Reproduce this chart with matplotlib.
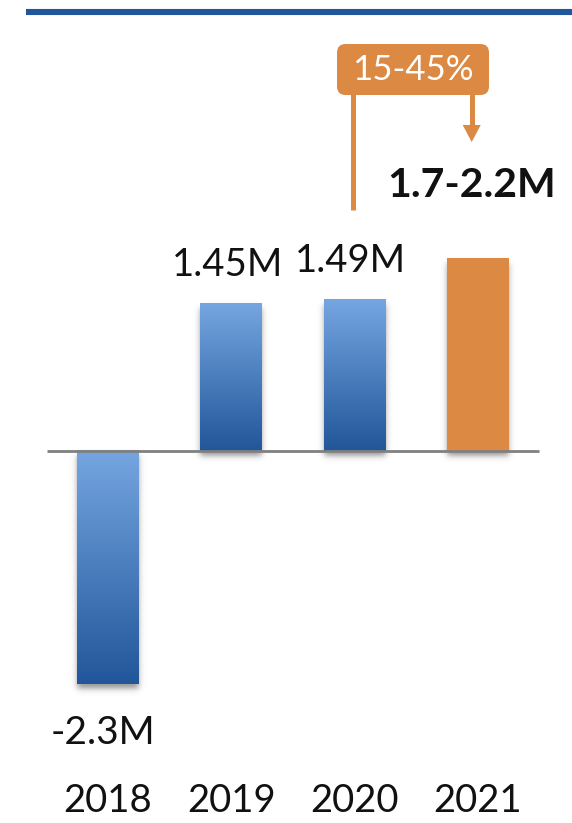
import numpy as np
import matplotlib
matplotlib.use("Agg")
import matplotlib.pyplot as plt
from matplotlib.patches import FancyBboxPatch, Polygon
from matplotlib.lines import Line2D
import matplotlib.colors as mcolors

# ---- data ----
years = ["2018", "2019", "2020", "2021"]
values = [-2.3, 1.45, 1.49, 1.9]          # millions; 2021 is the forecast midpoint
value_labels = ["-2.3M", "1.45M", "1.49M", "1.7-2.2M"]
growth_label = "15-45%"

# ---- style ----
BLUE_DARK = "#22569a"
BLUE_LIGHT = "#75a6e1"
ORANGE = "#dc8943"
GRAY = "#808080"
FONT = "Lato"

W, H = 572, 823
fig = plt.figure(figsize=(W / 100, H / 100), dpi=100)
ax = fig.add_axes([0, 0, 1, 1])

# axis scale: category spacing and pixels per million
X0, DX = 108.0, 123.33
Y0, DY = 451.0, 101.4
ax.set_xlim(-X0 / DX, (W - X0) / DX)
ax.set_ylim(-(H - Y0) / DY, Y0 / DY)
ax.axis("off")

def px_x(v):   # data-x units per pixel
    return v / DX

def px_y(v):   # data-y units per pixel
    return v / DY

x = np.arange(len(years))
bar_w = 0.5
bars = ax.bar(x, values, width=bar_w, color="none", edgecolor="none", zorder=3)

grad_cmap = mcolors.LinearSegmentedColormap.from_list("bluegrad", [BLUE_DARK, BLUE_LIGHT])

def smooth_box(u, a, b, s):
    return 0.5 * (np.tanh((u - a) / s) - np.tanh((u - b) / s))

for i, (rect, v) in enumerate(zip(bars, values)):
    x0 = rect.get_x()
    x1 = x0 + rect.get_width()
    y0 = min(0, v)
    y1 = max(0, v)

    # soft drop shadow below each bar
    pad_x, pad_y = px_x(14), px_y(16)
    off = px_y(5)
    sx = np.linspace(x0 - pad_x, x1 + pad_x, 120)
    sy = np.linspace(y0 - off - pad_y, y1 - off + pad_y, 240)
    XX, YY = np.meshgrid(sx, sy)
    alpha = smooth_box(XX, x0, x1, px_x(3.5)) * smooth_box(YY, y0 - off, y1 - off, px_y(3.5))
    shadow = np.zeros(alpha.shape + (4,))
    shadow[..., :3] = 0.25
    shadow[..., 3] = alpha * 0.55
    ax.imshow(shadow, extent=[sx[0], sx[-1], sy[0], sy[-1]], origin="lower",
              aspect="auto", zorder=1, interpolation="bilinear")

    if i == len(values) - 1:
        ax.add_patch(plt.Rectangle((x0, y0), x1 - x0, y1 - y0, color=ORANGE, zorder=4, lw=0))
    else:
        grad = np.linspace(0, 1, 256).reshape(-1, 1)
        ax.imshow(grad, extent=[x0, x1, y0, y1], origin="lower", cmap=grad_cmap,
                  aspect="auto", zorder=4, interpolation="bilinear")

# zero baseline
ax.plot([-0.495, 3.495], [0, 0], color=GRAY, lw=2.0, zorder=5, solid_capstyle="butt")

# value labels
for i, (v, lab) in enumerate(zip(values, value_labels)):
    if v < 0:
        ax.annotate(lab, (x[i] - px_x(5), v), xytext=(0, -43), textcoords="offset points",
                    ha="center", va="baseline", fontsize=28, family=FONT, color="#111111")
    elif i == len(values) - 1:
        ax.annotate(lab, (x[i] - px_x(6), v), xytext=(0, 44), textcoords="offset points",
                    ha="center", va="baseline", fontsize=29.5, family=FONT,
                    fontweight="bold", color="#111111")
    else:
        ax.annotate(lab, (x[i] - px_x(4), v), xytext=(0, 20), textcoords="offset points",
                    ha="center", va="baseline", fontsize=27.5, family=FONT, color="#111111")

# year labels
for i, yr in enumerate(years):
    ax.text(x[i], (H - 812) / H, yr, transform=ax.get_xaxis_transform(),
            ha="center", va="baseline", fontsize=27.5, family=FONT, color="#111111")

# growth callout between 2020 and 2021
box_l, box_r = px_x(337 - X0), px_x(489 - X0)
box_b, box_t = px_y(Y0 - 95), px_y(Y0 - 44)
ax.add_patch(FancyBboxPatch((box_l, box_b), box_r - box_l, box_t - box_b,
                            boxstyle="round,pad=0,rounding_size=0.07",
                            mutation_aspect=1.216, fc=ORANGE, ec="none", zorder=6))
ax.text((box_l + box_r) / 2, (box_b + box_t) / 2 - px_y(1), growth_label,
        ha="center", va="center", fontsize=25, family=FONT, color="white", zorder=7)

# connector from 2020 and arrow down to 2021
lx = x[2] - px_x(1.5)
ax.plot([lx, lx], [box_b + px_y(2), px_y(Y0 - 210)], color=ORANGE, lw=3.6,
        solid_capstyle="butt", zorder=5)
rx = x[3] - px_x(6.3)
tip = px_y(Y0 - 142)
head_h, head_w = px_y(17), px_x(9)
ax.plot([rx, rx], [box_b + px_y(2), tip + head_h - px_y(1)], color=ORANGE, lw=3.6,
        solid_capstyle="butt", zorder=5)
ax.add_patch(Polygon([[rx - head_w, tip + head_h], [rx + head_w, tip + head_h], [rx, tip]],
                     closed=True, fc=ORANGE, ec="none", zorder=5))

# header rule
fig.add_artist(Line2D([26 / W, 1.0], [1 - 12 / H, 1 - 12 / H], transform=fig.transFigure,
                      color=BLUE_DARK, lw=4.4, solid_capstyle="butt"))

fig.savefig("out.png", dpi=100)
